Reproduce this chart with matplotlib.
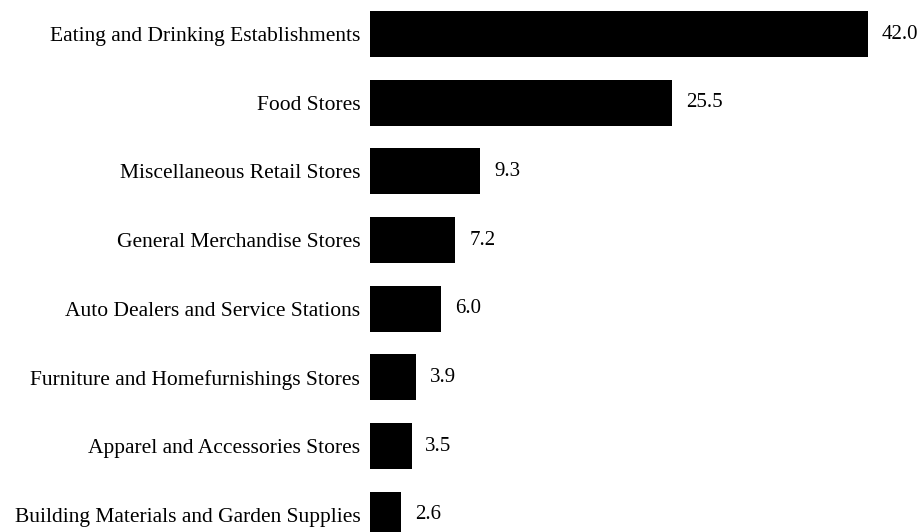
import matplotlib
matplotlib.use("Agg")
import matplotlib.pyplot as plt

categories = [
    "Eating and Drinking Establishments",
    "Food Stores",
    "Miscellaneous Retail Stores",
    "General Merchandise Stores",
    "Auto Dealers and Service Stations",
    "Furniture and Homefurnishings Stores",
    "Apparel and Accessories Stores",
    "Building Materials and Garden Supplies",
]
values = [42.0, 25.5, 9.3, 7.2, 6.0, 3.9, 3.5, 2.6]

plt.rcParams["font.family"] = ["Liberation Serif", "DejaVu Serif"]

fig = plt.figure(figsize=(9.24, 5.32), dpi=100)
ax = fig.add_axes([370 / 924, 0, 554 / 924, 1])

pos = list(range(len(categories)))
ax.barh(pos, values, height=0.67, color="black")
ax.set_xlim(0, 554 / 11.86)
ax.set_ylim(7.25, -0.495)

ax.set_yticks(pos)
ax.set_yticklabels(categories, fontsize=15.5)
ax.tick_params(axis="y", length=0, pad=7)
ax.set_xticks([])
for s in ax.spines.values():
    s.set_visible(False)

for p, v in zip(pos, values):
    ax.annotate(f"{v:.1f}", xy=(v, p), xytext=(10, 0), textcoords="offset points",
                va="center", ha="left", fontsize=15)

fig.savefig("out.png", dpi=100)
